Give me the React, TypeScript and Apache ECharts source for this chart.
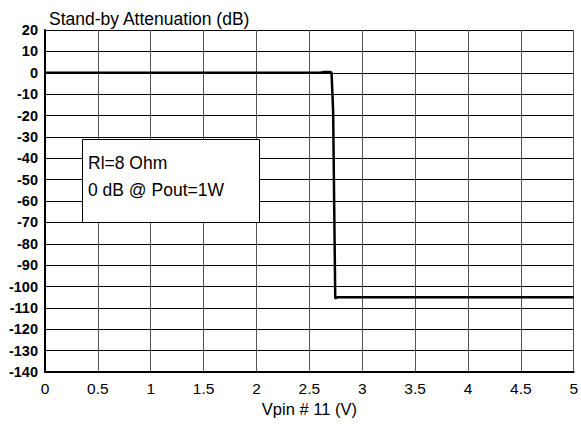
import React, { useEffect, useRef } from "react";
import * as echarts from "echarts";

const xTicks = [0, 0.5, 1, 1.5, 2, 2.5, 3, 3.5, 4, 4.5, 5];
const yTicks = [20, 10, 0, -10, -20, -30, -40, -50, -60, -70, -80, -90, -100, -110, -120, -130, -140];
const curveX = [0, 2.6, 2.63, 2.7, 2.71, 2.725, 2.745, 2.77, 5];
const curveY = [0, 0, 0.3, 0.3, 0, -18, -105.5, -105, -105];
const titleText = "Stand-by Attenuation (dB)";
const xName = "Vpin # 11 (V)";
const noteLines = ["Rl=8 Ohm", "0 dB @ Pout=1W"];

const FONT = "Liberation Sans, Arial, sans-serif";

export default function App() {
  const ref = useRef<HTMLDivElement>(null);
  useEffect(() => {
    if (!ref.current) return;
    const chart = echarts.init(ref.current, undefined, { renderer: "svg" });
    const data = curveX.map((x, i) => [x, curveY[i]]);
    chart.setOption({
      animation: false,
      backgroundColor: "#ffffff",
      textStyle: { fontFamily: FONT },
      title: {
        text: titleText,
        left: 44,
        top: 5,
        textStyle: { fontFamily: FONT, fontSize: 17.5, fontWeight: "normal", color: "#000" },
      },
      grid: { left: 45, right: 6, top: 30, bottom: 58, containLabel: false },
      xAxis: {
        type: "value",
        min: xTicks[0],
        max: xTicks[xTicks.length - 1],
        interval: 0.5,
        name: xName,
        nameLocation: "middle",
        nameGap: 23,
        nameTextStyle: { fontFamily: FONT, fontSize: 16.5, color: "#000" },
        axisLine: { show: true, onZero: false, lineStyle: { color: "#000", width: 2 } },
        axisTick: { show: false },
        axisLabel: { fontFamily: FONT, fontSize: 15.5, color: "#000", margin: 8 },
        splitLine: { show: true, lineStyle: { color: "#555", width: 1 } },
      },
      yAxis: {
        type: "value",
        min: yTicks[yTicks.length - 1],
        max: yTicks[0],
        interval: 10,
        axisLine: { show: true, onZero: false, lineStyle: { color: "#000", width: 2 } },
        axisTick: { show: false },
        axisLabel: { fontFamily: FONT, fontSize: 14.5, fontWeight: "bold", color: "#000", margin: 7 },
        splitLine: { show: true, lineStyle: { color: "#000", width: 1 } },
      },
      series: [
        {
          type: "line",
          data,
          symbol: "none",
          lineStyle: { color: "#000", width: 2.5 },
          z: 5,
        },
      ],
      graphic: [
        {
          type: "rect",
          shape: { x: 82.5, y: 139.5, width: 177, height: 83 },
          style: { fill: "#fff", stroke: "#000", lineWidth: 1 },
          z: 100,
        },
        {
          type: "text",
          x: 88,
          y: 163,
          style: { text: noteLines[0], font: `17.5px ${FONT}`, fill: "#000", verticalAlign: "middle" },
          z: 101,
        },
        {
          type: "text",
          x: 88,
          y: 190,
          style: { text: noteLines[1], font: `17.5px ${FONT}`, fill: "#000", verticalAlign: "middle" },
          z: 101,
        },
      ],
    });
    return () => chart.dispose();
  }, []);
  return (
    <div
      ref={ref}
      style={{ position: "fixed", left: 0, top: 0, width: 581, height: 430, background: "#fff" }}
    />
  );
}
